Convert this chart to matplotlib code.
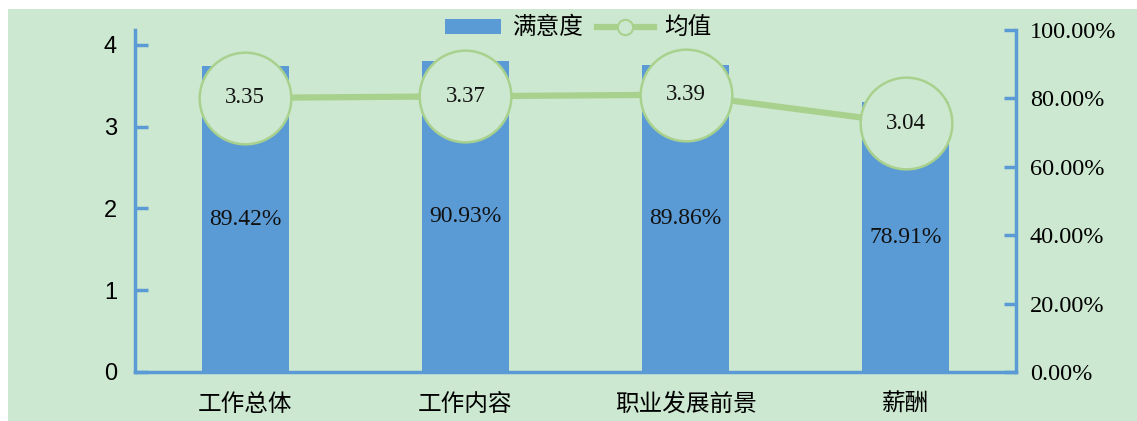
import matplotlib
matplotlib.use("Agg")
import matplotlib.pyplot as plt
from matplotlib.patches import Rectangle, Patch
from matplotlib.lines import Line2D
from matplotlib.ticker import PercentFormatter

plt.rcParams['font.family'] = ['Noto Sans CJK SC', 'DejaVu Sans']

# data
categories = ['工作总体', '工作内容', '职业发展前景', '薪酬']
satisfaction = [0.8942, 0.9093, 0.8986, 0.7891]
means = [3.35, 3.37, 3.39, 3.04]

bg = '#CDE8D0'
bar_col = '#5B9BD5'
line_col = '#A9D18E'

fig = plt.figure(figsize=(11.37, 4.21), dpi=100)
fig.patch.set_facecolor('white')
fig.patches.append(Rectangle((8 / 1137, 0), 1 - 8 / 1137, 1 - 9 / 421,
                             transform=fig.transFigure, facecolor=bg,
                             edgecolor='none', zorder=-10))

ax = fig.add_axes([135 / 1137, 49 / 421, (1016 - 135) / 1137, (372 - 30) / 421])
ax.patch.set_alpha(0)
x = range(len(categories))

# line on left (mean) axis
ax2 = ax.twinx()
ax2.yaxis.tick_left()
ax.yaxis.tick_right()

# bars on right (percent) axis
ax.bar(x, satisfaction, width=0.395, color=bar_col, zorder=2)
for xi, v in zip(x, satisfaction):
    ax.text(xi, v / 2, f'{v * 100:.2f}%', ha='center', va='center',
            fontsize=17, family='Liberation Serif', color='#111111')
ax.set_ylim(0, 1.0)
ax.set_xlim(-0.5, 3.5)
ax.yaxis.set_major_formatter(PercentFormatter(1.0, decimals=2))
ax.set_yticks([0, 0.2, 0.4, 0.6, 0.8, 1.0])
for lab in ax.get_yticklabels():
    lab.set_family('Liberation Serif')
ax.tick_params(axis='y', direction='in', length=9, width=2.5, color=bar_col,
               pad=10, labelsize=17.5)
ax.tick_params(axis='x', length=0, pad=15, labelsize=17)
ax.set_xticks(list(x))
ax.set_xticklabels(categories)
for s in ['top', 'left']:
    ax.spines[s].set_visible(False)
for s in ['bottom', 'right']:
    ax.spines[s].set_color(bar_col)
    ax.spines[s].set_linewidth(2.5)

ax2.plot(list(x), means, color=line_col, linewidth=4.5, marker='o',
         markersize=66, markerfacecolor=bg, markeredgecolor=line_col,
         markeredgewidth=1.8, zorder=3)
for xi, v in zip(x, means):
    ax2.text(xi, v, f'{v:.2f}', ha='center', va='center', fontsize=16.5,
             family='Liberation Serif', color='#111111', zorder=4)
ax2.set_ylim(0, 4.18)
ax2.set_yticks([0, 1, 2, 3, 4])
for lab in ax2.get_yticklabels():
    lab.set_family('Liberation Sans')
ax2.tick_params(axis='y', direction='in', length=9, width=2.5, color=bar_col,
                pad=13, labelsize=17)
for s in ['top', 'right', 'bottom']:
    ax2.spines[s].set_visible(False)
ax2.spines['left'].set_color(bar_col)
ax2.spines['left'].set_linewidth(2.5)

handles = [Patch(facecolor=bar_col, edgecolor='none'),
           Line2D([], [], color=line_col, linewidth=4.5, marker='o',
                  markersize=11, markerfacecolor=bg, markeredgecolor=line_col,
                  markeredgewidth=1.5)]
fig.legend(handles, ['满意度', '均值'], loc='center', ncol=2,
           bbox_to_anchor=(578 / 1137, 1 - 28 / 421), frameon=False,
           fontsize=17, handlelength=2.4, handleheight=0.6, columnspacing=0.6,
           handletextpad=0.45)

fig.savefig('out.png', dpi=100, facecolor=fig.get_facecolor())
